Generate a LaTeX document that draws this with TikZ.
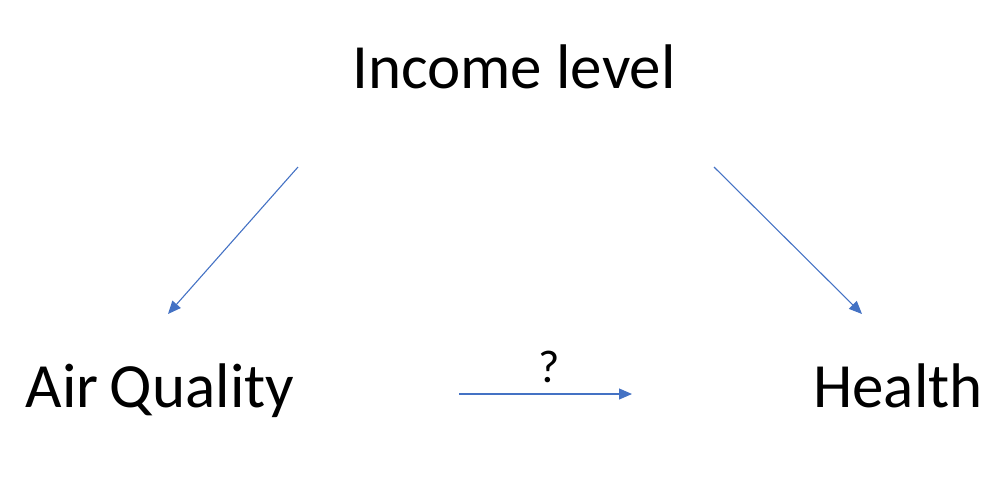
\documentclass[tikz,border=0pt]{standalone}
\usepackage{fontspec}
\setmainfont{Carlito}
\usetikzlibrary{arrows.meta}
\definecolor{linkblue}{HTML}{4472C4}

\begin{document}
\begin{tikzpicture}[x=0.5pt,y=-0.5pt]
    \useasboundingbox (0,0) rectangle (1000,478);

        \begin{scope}[every node/.style={font=\fontsize{31.5}{38}\selectfont,inner sep=0pt,anchor=base}]
            \node (income) at (514,88) {Income level};
            \node (air) at (160,407) {Air\hspace{0.18em}Quality};
            \node (health) at (898,407) {Health};
        \end{scope}

        \coordinate (income-l) at (298,167);
        \coordinate (air-t) at (168,314);
        \coordinate (income-r) at (714,167);
        \coordinate (health-t) at (862,314);
        \coordinate (air-r) at (459,394);
        \coordinate (health-l) at (632,394);

        \begin{scope}[every edge/.style={draw=linkblue,line width=0.55pt,-{Triangle[length=6.5pt,width=5.5pt]}}]
            \path (income-l) edge (air-t);
            \path (income-r) edge (health-t);
            \path (air-r) edge node[above=5.5pt,xshift=2pt,font=\fontsize{23}{27}\selectfont,inner sep=0pt] (q) {?} (health-l);
        \end{scope}

    \end{tikzpicture}
\end{document}
